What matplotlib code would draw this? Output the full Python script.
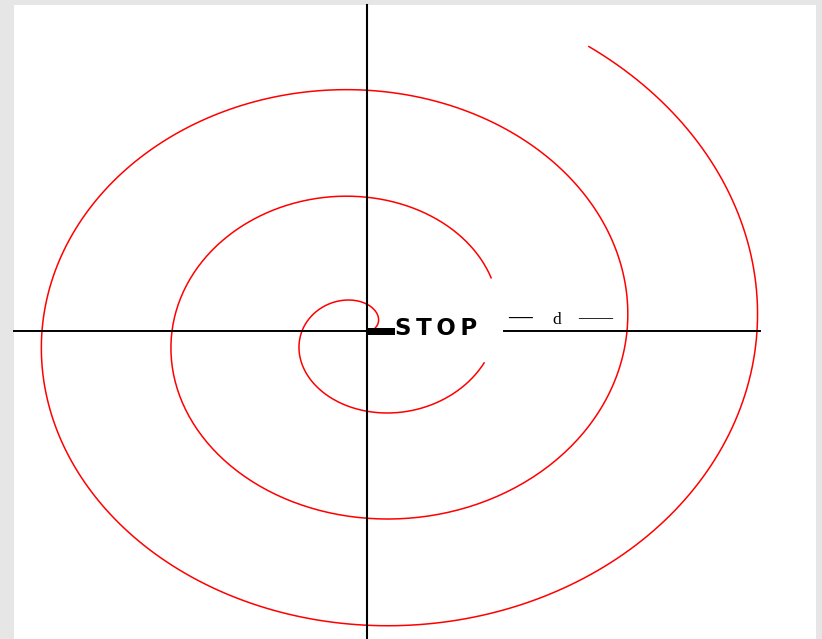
import numpy as np
import matplotlib
matplotlib.use("Agg")
import matplotlib.pyplot as plt
from matplotlib.patches import Rectangle

# spiral, in units of the turn spacing d
start_angle = 0.45              # radians, curve starts near the centre
gap_from = 2 * np.pi - 0.32     # break where the labels sit
gap_to = 2 * np.pi + 0.48
end_angle = 6 * np.pi + 1.0     # outer end, upper right

# axis lines (data units), and the STOP bar
h_axis_left = (-2.715, 0.0)
h_axis_right = (1.05, 3.02)
v_axis = (-2.9, 3.05)
stop_bar = (0.0, 0.215)

# pixel layout of the image
W, H = 822, 639
cx, cy = 367, 331
px_x, px_y = 130.0, 107.0   # pixels per d, horizontal / vertical

fig = plt.figure(figsize=(W / 100, H / 100), dpi=100, facecolor="#e6e6e6")
ax = fig.add_axes([0, 0, 1, 1])
ax.set_facecolor("none")
ax.set_xlim(-cx / px_x, (W - cx) / px_x)
ax.set_ylim(-(H - cy) / px_y, cy / px_y)
ax.axis("off")
ax.add_patch(Rectangle((14 / W, 0), (816 - 14) / W, (H - 5) / H,
                       transform=ax.transAxes, facecolor="white",
                       edgecolor="none", zorder=0))


def spiral(t0, t1):
    t = np.linspace(t0, t1, 600)
    r = t / (2 * np.pi)
    return r * np.cos(t), r * np.sin(t)


for t0, t1 in [(start_angle, gap_from), (gap_to, end_angle)]:
    x, y = spiral(t0, t1)
    ax.plot(x, y, color="#ff0000", lw=1.1, zorder=2)

# axes cross
ax.plot(h_axis_left, [0, 0], color="black", lw=1.4, zorder=3)
ax.plot(h_axis_right, [0, 0], color="black", lw=1.4, zorder=3)
ax.plot([0, 0], v_axis, color="black", lw=1.5, zorder=3)

ax.add_patch(Rectangle((stop_bar[0], -0.035), stop_bar[1] - stop_bar[0], 0.065,
                       facecolor="black", edgecolor="none", zorder=4))
ax.text(stop_bar[1], -0.035, "S\u2009T\u2009O\u2009P", fontsize=16.5, fontweight="bold",
        family="DejaVu Sans", ha="left", va="baseline", zorder=5)

# "— d —" label
ax.text((520 - cx) / px_x, 0.065, "\u2014", fontsize=17, family="Liberation Serif",
        fontweight="bold", ha="center", va="baseline")
ax.text((557 - cx) / px_x, 0.07, "d", fontsize=12.5, family="Liberation Serif",
        ha="center", va="baseline")
ax.text((596 - cx) / px_x, 0.08, "\u2014\u2014", fontsize=12.6, family="Liberation Serif",
        fontweight="bold", ha="center", va="baseline")

fig.savefig("out.png", dpi=100, facecolor=fig.get_facecolor())
